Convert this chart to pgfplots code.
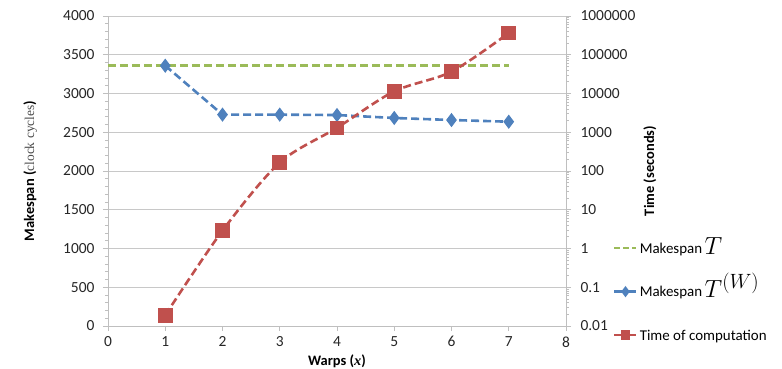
\documentclass[border=0pt]{standalone}
\usepackage{pgfplots}
\pgfplotsset{compat=1.18}
\usepackage{fontspec}
\setmainfont{Carlito}
\newfontfamily\serifx{Liberation Serif}
\definecolor{xgreen}{HTML}{9BBB59}
\definecolor{xblue}{HTML}{4F81BD}
\definecolor{xred}{HTML}{C0504D}
\definecolor{axgray}{HTML}{BFBFBF}
\definecolor{gridgray}{HTML}{C8C8C8}
\newcommand{\lgtext}[1]{\raisebox{0pt}[12bp][4bp]{#1}}
\begin{document}
\begin{tikzpicture}
\useasboundingbox (-108bp,-43bp) rectangle (674bp,326bp);
\pgfplotsset{
  common/.style={
    scale only axis, width=458bp, height=310bp,
    at={(0,0)}, anchor=south west,
    xmin=0, xmax=8,
    axis line style={axgray, line width=0.8bp},
    tick style={axgray, line width=0.8bp},
    major tick length=5bp, minor tick length=3bp,
    tick align=outside,
    ticklabel style={font=\fontsize{15.5}{17}\selectfont, text=black!85},
    label style={font=\fontsize{14.5}{17}\selectfont\bfseries},
    /pgf/number format/assume math mode=true,
    /pgf/number format/1000 sep={},
  },
  dashed line/.style={line width=2.6bp, dash pattern=on 8bp off 4bp},
}
\begin{axis}[common,
  ymin=0, ymax=4000,
  axis x line*=bottom, axis y line*=left,
  xtick={0,1,...,8}, ytick={0,500,...,4000},
  minor y tick num=4,
  ymajorgrids, major grid style={gridgray, line width=0.8bp},
  xticklabel style={yshift=-2bp},
  yticklabel style={xshift=-5bp},
  xlabel={Warps (\textit{\serifx x})},
  ylabel={Makespan (\textcolor{black!70}{\mdseries\serifx\fontsize{13.5}{15}\selectfont clock cycles})},
  xlabel style={at={(axis description cs:0.5,-0.115)}, anchor=center},
  ylabel style={at={(axis description cs:-0.170,0.5)}, anchor=center},
]
\addplot[xgreen, dashed line, no marks] coordinates {(0,3359) (7,3359)};
\addplot[xblue, dashed line, mark=diamond*, mark size=5bp, mark options={solid}] coordinates {
(1,3359) (2,2727) (3,2727) (4,2722) (5,2684) (6,2658) (7,2636)};
\end{axis}
\begin{axis}[common,
  ymode=log, ymin=0.01, ymax=1e6,
  axis y line*=right, axis x line=none,
  ytick={1e-2,1e-1,1,10,100,1000,1e4,1e5,1e6},
  yticklabels={0.01,0.1,1,10,100,1000,10000,100000,1000000},
  yticklabel style={xshift=6bp},
  minor ytick={2e-2,3e-2,4e-2,5e-2,6e-2,7e-2,8e-2,9e-2,
    2e-1,3e-1,4e-1,5e-1,6e-1,7e-1,8e-1,9e-1,
    2,3,4,5,6,7,8,9,20,30,40,50,60,70,80,90,
    200,300,400,500,600,700,800,900,
    2e3,3e3,4e3,5e3,6e3,7e3,8e3,9e3,
    2e4,3e4,4e4,5e4,6e4,7e4,8e4,9e4,
    2e5,3e5,4e5,5e5,6e5,7e5,8e5,9e5},
  minor tick length=2.5bp,
  ylabel={Time (seconds)},
  ylabel style={at={(axis description cs:1.183,0.5)}, anchor=center},
  legend style={at={(axis description cs:1.1026,0.28)}, anchor=north west,
    draw=none, fill=none, font=\fontsize{15}{17}\selectfont,
    row sep=26bp, inner sep=0pt},
  legend cell align=left,
  legend image code/.code={\draw[mark repeat=2, mark phase=2, #1]
     plot coordinates {(0bp,0bp) (11bp,0bp) (22bp,0bp)};},
]
\addlegendimage{xgreen, line width=2.6bp, dash pattern=on 6bp off 3bp}
\addlegendentry{\lgtext{Makespan\,\raisebox{-1bp}{\fontsize{32}{32}\selectfont$T$}}}
\addlegendimage{xblue, line width=2.6bp, mark=diamond*, mark size=3.5bp}
\addlegendentry{\lgtext{Makespan\,\raisebox{-1bp}{\fontsize{32}{32}\selectfont$T^{(W)}$}}}
\addlegendimage{xred, line width=2.6bp, mark=square*, mark size=3.5bp}
\addlegendentry{\lgtext{Time of computation}}
\addplot[xred, dashed line, smooth, mark=square*, mark size=6bp, mark options={solid}, forget plot] coordinates {
(1,0.019) (2,2.9) (3,165) (4,1300) (5,11400) (6,36600) (7,364000)};
\end{axis}
\end{tikzpicture}
\end{document}
